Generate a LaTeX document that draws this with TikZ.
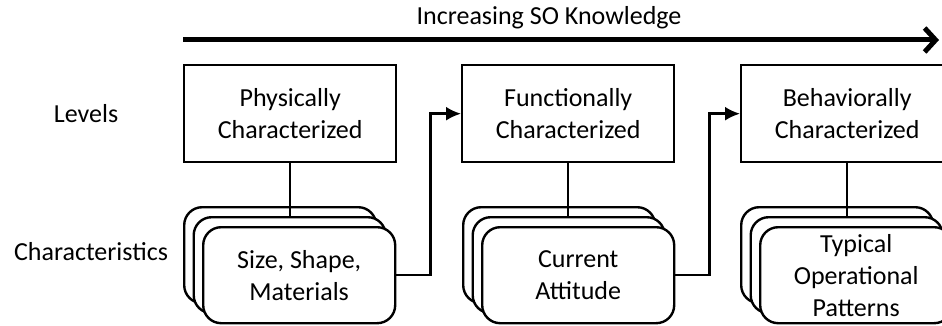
\documentclass[tikz,border=0pt]{standalone}
\usepackage{fontspec}
\setmainfont{Carlito}
\usetikzlibrary{arrows.meta}
\begin{document}
\begin{tikzpicture}[x=1pt,y=-1pt,
  line width=2.4pt,
  lbl/.style={font=\fontsize{26}{32}\selectfont, align=center, inner sep=0pt},
  levelbox/.style={draw, lbl, minimum width=212pt, minimum height=97pt, anchor=north west},
  card/.style={draw, fill=white, lbl, rounded corners=18pt, minimum width=192pt, minimum height=96pt, anchor=north west},
  link/.style={-{Latex[length=15pt,width=14pt]}},
  progress/.style={line width=5pt, -{Straight Barb[length=11pt,width=24pt]}}
]
\useasboundingbox (0,0) rectangle (942,326);
\clip (0,0) rectangle (942,326);

% knowledge axis
\coordinate (kstart) at (183,40);
\coordinate (kend) at (939,40);
\draw[progress] (kstart) -- (kend);
\node[lbl, anchor=base] (ktitle) at (549,25) {Increasing SO Knowledge};

% row labels
\node[lbl, anchor=base] (levels) at (86,123) {Levels};
\node[lbl, anchor=base] (chars) at (91,260) {Characteristics};

% levels
\node[levelbox] (box1) at (183,64) {Physically\\Characterized};
\node[levelbox] (box2) at (461,64) {Functionally\\Characterized};
\node[levelbox] (box3) at (740,64) {Behaviorally\\Characterized};

% stacks of characteristic cards
\node[card] (back1) at (183,206) {};
\node[card] (mid1) at (192.5,216) {};
\node[card] (front1) at (202,226) {Size, Shape,\\Materials};

\node[card] (back2) at (462,206) {};
\node[card] (mid2) at (471.5,216) {};
\node[card] (front2) at (481,226) {Current\\Attitude};

\node[card] (back3) at (740,206) {};
\node[card] (mid3) at (749.5,216) {};
\node[card] (front3) at (759,226) {Typical\\Operational\\Patterns};

% level to card stack
\draw (box1.south) -- (box1.south |- mid1.north);
\draw (box2.south) -- (box2.south |- mid2.north);
\draw (box3.south) -- (box3.south |- mid3.north);

% progression between levels
\draw[link] (front1.east) -- ++(34,0) |- (box2.west);
\draw[link] (front2.east) -- ++(34,0) |- (box3.west);
\end{tikzpicture}
\end{document}
